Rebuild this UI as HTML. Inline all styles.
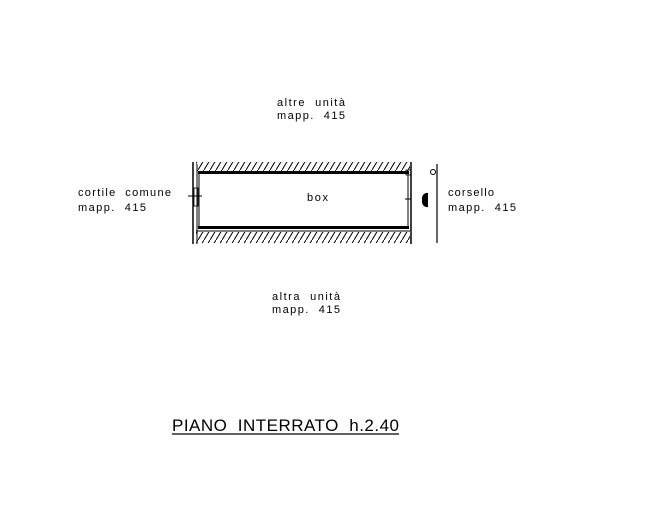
<!DOCTYPE html>
<html><head><style>body{margin:0;background:#fff}</style></head><body>
<svg width="649" height="509" xmlns="http://www.w3.org/2000/svg" font-family="Liberation Sans, sans-serif" font-size="11" fill="#000">
<defs>
<pattern id="h" width="6" height="10" patternUnits="userSpaceOnUse">
<line x1="0" y1="10" x2="6" y2="0" stroke="#000" stroke-width="1"/>
</pattern>
</defs>
<rect x="196" y="162" width="214" height="9" fill="url(#h)"/>
<rect x="196" y="232" width="214" height="11" fill="url(#h)"/>
<line x1="193" y1="162" x2="193" y2="244" stroke="#000" stroke-width="1.5"/>
<line x1="197" y1="164" x2="197" y2="244" stroke="#000" stroke-width="1"/>
<line x1="411" y1="162" x2="411" y2="244" stroke="#000" stroke-width="1.5"/>
<rect x="198" y="171" width="211" height="3" fill="#000"/>
<rect x="198" y="226" width="211" height="3" fill="#000"/>
<line x1="196" y1="231" x2="410" y2="231" stroke="#000" stroke-width="1"/>
<line x1="199" y1="174" x2="199" y2="226" stroke="#000" stroke-width="1"/>
<line x1="408" y1="174" x2="408" y2="226" stroke="#000" stroke-width="1"/>
<line x1="188" y1="196" x2="202" y2="196" stroke="#000"/>
<rect x="194" y="188" width="4" height="18" fill="none" stroke="#000" stroke-width="0.8"/>
<line x1="405" y1="199" x2="411" y2="199" stroke="#000"/>
<rect x="406" y="170" width="5" height="5" fill="none" stroke="#000" stroke-width="0.8"/>
<path d="M422 200 a5 6 0 0 1 6 -7 v14 a5 6 0 0 1 -6 -7z" fill="#000"/>
<line x1="437" y1="164" x2="437" y2="243" stroke="#000" stroke-width="1.2"/>
<circle cx="433" cy="172" r="2.5" fill="none" stroke="#000"/>
<text x="277" y="106" textLength="68" lengthAdjust="spacing">altre&#160;&#160;unità</text>
<text x="277" y="119" textLength="68" lengthAdjust="spacing">mapp.&#160;&#160;415</text>
<text x="307" y="201" textLength="21" lengthAdjust="spacing">box</text>
<text x="78" y="196" textLength="93" lengthAdjust="spacing">cortile&#160;&#160;comune</text>
<text x="78" y="211" textLength="68" lengthAdjust="spacing">mapp.&#160;&#160;415</text>
<text x="448" y="196" textLength="46" lengthAdjust="spacing">corsello</text>
<text x="448" y="211" textLength="68" lengthAdjust="spacing">mapp.&#160;&#160;415</text>
<text x="272" y="300" textLength="68" lengthAdjust="spacing">altra&#160;&#160;unità</text>
<text x="272" y="313" textLength="68" lengthAdjust="spacing">mapp.&#160;&#160;415</text>
<text x="172" y="431" font-size="17" textLength="227" lengthAdjust="spacing">PIANO&#160;&#160;INTERRATO&#160;&#160;h.2.40</text>
<line x1="172" y1="434" x2="399" y2="434" stroke="#000" stroke-width="1.2"/>
</svg>
</body></html>
